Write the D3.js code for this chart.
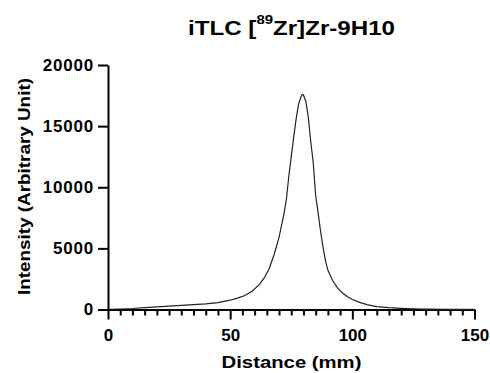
<!DOCTYPE html>
<html>
<head>
<meta charset="utf-8">
<script src="https://cdn.jsdelivr.net/npm/d3@7"></script>
<style>
  body { margin: 0; background: #fff; }
  svg { display: block; font-family: "Liberation Sans", Arial, sans-serif; font-weight: bold; }
</style>
</head>
<body>
<script>
// scan of the iTLC strip
var distance = [0, 5, 10, 15, 20, 25, 30, 35, 40, 45, 50, 53, 56, 59, 62, 64, 66, 68, 70, 72, 73, 74, 75, 76, 77, 78, 79, 79.5, 80, 81, 82, 83, 84, 85, 86, 87, 88, 89, 90, 92, 94, 96, 98, 100, 103, 106, 110, 115, 120, 125, 130, 140, 150];
var intensity = [20, 40, 80, 150, 220, 280, 340, 400, 460, 560, 760, 930, 1150, 1500, 2050, 2600, 3350, 4500, 5900, 7800, 9000, 10900, 12500, 14100, 15600, 16800, 17400, 17600, 17550, 17000, 15700, 13700, 12000, 9300, 7900, 6400, 5100, 4000, 3200, 2350, 1750, 1350, 1050, 820, 580, 400, 240, 150, 90, 50, 30, 15, 10];
var xMajor = [0, 50, 100, 150];
var yMajor = [0, 5000, 10000, 15000, 20000];

var width = 490,
  height = 373;

var svg = d3.select("body").append("svg").attr("width", width).attr("height", height);

var x = d3.scaleLinear().domain([0, 150]).range([108, 474.5]);
var y = d3.scaleLinear().domain([0, 20000]).range([309.5, 65]);

var pts = distance.map(function (d, i) { return [d, intensity[i]]; });

// minor ticks every 5 mm
var xMinor = d3.range(0, 151, 5).filter(function (d) { return d % 50 != 0; });
svg.append("g")
  .attr("transform", "translate(0," + y(0) + ")")
  .call(d3.axisBottom(x).tickValues(xMinor).tickSize(6).tickSizeOuter(0).tickFormat(""))
  .call(function (g) { g.select(".domain").remove(); });

var xAxis = svg.append("g")
  .attr("transform", "translate(0," + y(0) + ")")
  .call(d3.axisBottom(x).tickValues(xMajor).tickSize(10).tickSizeOuter(0).tickPadding(9));

var yAxis = svg.append("g")
  .attr("transform", "translate(" + x(0) + ",0)")
  .call(d3.axisLeft(y).tickValues(yMajor).tickSize(10).tickSizeOuter(0).tickPadding(4).tickFormat(d3.format("d")));

svg.selectAll(".tick line, .domain").attr("stroke", "#000").attr("stroke-width", 2);
svg.selectAll(".tick text").attr("font-size", 17).attr("font-family", null).attr("fill", "#000");
yAxis.selectAll(".tick text").attr("letter-spacing", 0.8);

var line = d3.line()
  .x(function (d) { return x(d[0]); })
  .y(function (d) { return y(d[1]); });

svg.append("path")
  .datum(pts)
  .attr("fill", "none")
  .attr("stroke", "#222")
  .attr("stroke-width", 1.2)
  .attr("d", line);

// texts are a bit wider than the font, so stretch them to the measured width
function stretch(t, target, cx, cy, rot) {
  var w = t.node().getComputedTextLength();
  t.attr("transform", "translate(" + cx + "," + cy + ") rotate(" + rot + ") scale(" + (target / w) + ",1)");
}

var title = svg.append("text").attr("text-anchor", "middle").attr("font-size", 21);
title.append("tspan").text("iTLC [");
title.append("tspan").attr("font-size", 13).attr("dy", -11).text("89");
title.append("tspan").attr("dy", 11).text("Zr]Zr-9H10");
stretch(title, 207, 291.5, 35, 0);

var xl = svg.append("text").attr("text-anchor", "middle").attr("font-size", 16).text("Distance (mm)");
stretch(xl, 140, 291.5, 367.5, 0);

var yl = svg.append("text").attr("text-anchor", "middle").attr("font-size", 16).text("Intensity (Arbitrary Unit)");
stretch(yl, 217, 30, 186.5, -90);
</script>
</body>
</html>
